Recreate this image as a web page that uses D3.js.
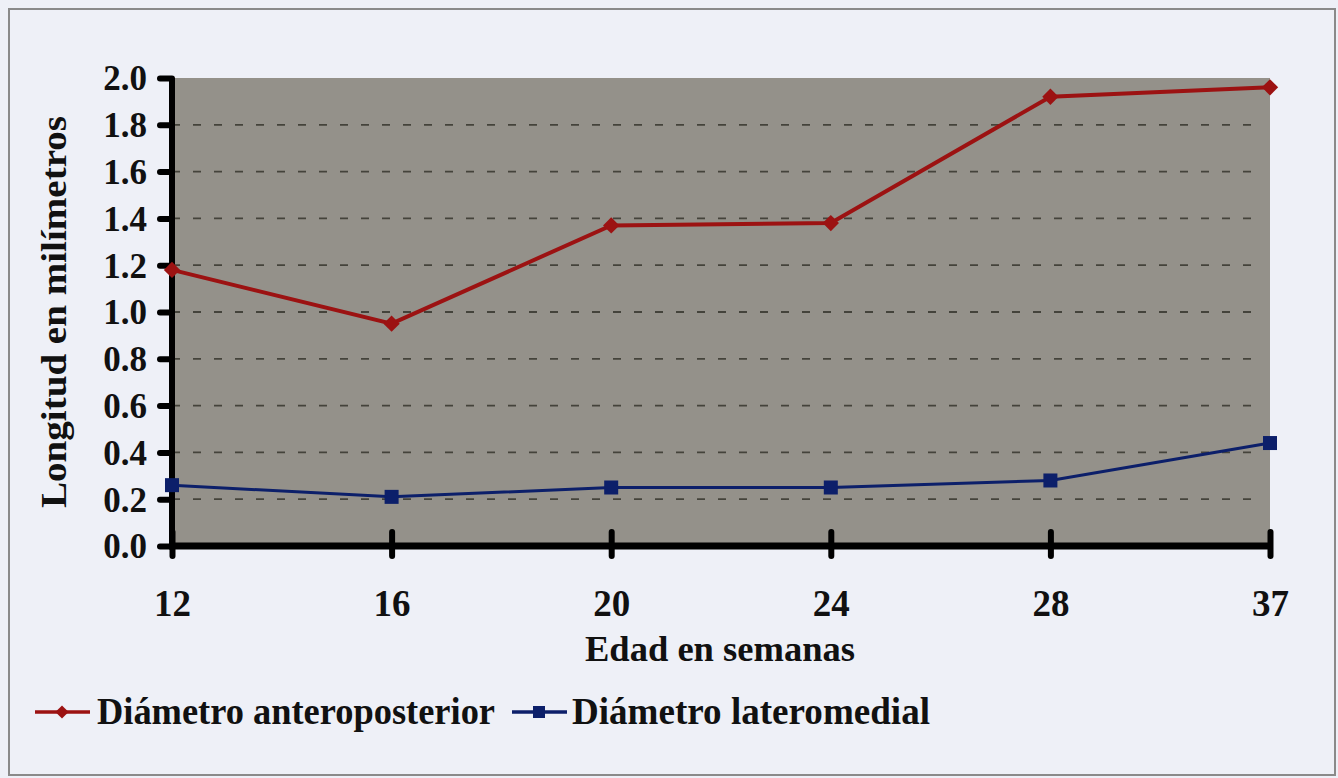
<!DOCTYPE html>
<html>
<head>
<meta charset="utf-8">
<script src="https://cdn.jsdelivr.net/npm/d3@7"></script>
<style>
  body { margin: 0; background: #eef0f7; }
  svg { display: block; }
  svg text { font-family: "Liberation Serif", "Times New Roman", serif !important; font-weight: bold; fill: #111; }
</style>
</head>
<body>
<svg id="chart" width="1338" height="778"></svg>
<script>
// edades (semanas) y diámetros en mm
var weeks = ["12", "16", "20", "24", "28", "37"];
var anteroposterior = [1.18, 0.95, 1.37, 1.38, 1.92, 1.96];
var lateromedial = [0.26, 0.21, 0.25, 0.25, 0.28, 0.44];
var yTicks = [0, 0.2, 0.4, 0.6, 0.8, 1.0, 1.2, 1.4, 1.6, 1.8, 2.0];
var seriesNames = ["Diámetro anteroposterior", "Diámetro lateromedial"];

var margin = { top: 78, left: 172, right: 68, bottom: 232 },
	W = 1338, H = 778,
	width = W - margin.left - margin.right,
	height = H - margin.top - margin.bottom;

var svg = d3.select("#chart");

// marco exterior
svg.append("rect")
	.attr("x", 9).attr("y", 9)
	.attr("width", 1326).attr("height", 766)
	.attr("fill", "#eef0f7")
	.attr("stroke", "#8a8a8a").attr("stroke-width", 2);

var g = svg.append("g")
	.attr("transform", "translate(" + margin.left + "," + margin.top + ")");

var x = d3.scalePoint().domain(weeks).range([0, width]).padding(0);
var y = d3.scaleLinear().domain([0, 2]).range([height, 0]);

// fondo gris del área de trazado
g.append("rect")
	.attr("width", width).attr("height", height)
	.attr("fill", "#94918a");

// líneas de cuadrícula discontinuas
g.append("g").selectAll("line")
	.data(yTicks.filter(function (d) { return d > 0 && d < 2; }))
	.enter().append("line")
	.attr("x1", 0).attr("x2", width - 8)
	.attr("y1", function (d) { return y(d); })
	.attr("y2", function (d) { return y(d); })
	.attr("stroke", "#44433b")
	.attr("stroke-width", 1.8)
	.attr("stroke-dasharray", "8,13");

// eje Y
var yAxis = g.append("g")
	.call(d3.axisLeft(y).tickValues(yTicks).tickSize(12).tickPadding(13)
		.tickFormat(d3.format(".1f")));
yAxis.select(".domain").remove();
yAxis.selectAll(".tick line").attr("stroke", "#000").attr("stroke-width", 6)
	.attr("stroke-linecap", "round");
yAxis.selectAll("text").style("font-size", "35px").attr("dy", "0.34em");
g.append("line")
	.attr("x1", 0).attr("x2", 0).attr("y1", 0).attr("y2", height)
	.attr("stroke", "#000").attr("stroke-width", 6);

// eje X
var xAxis = g.append("g")
	.attr("transform", "translate(0," + height + ")")
	.call(d3.axisBottom(x).tickSize(10).tickPadding(34));
xAxis.select(".domain").remove();
xAxis.selectAll(".tick line")
	.attr("y1", -14).attr("y2", 10)
	.attr("stroke", "#000").attr("stroke-width", 6)
	.attr("stroke-linecap", "round");
xAxis.selectAll("text").style("font-size", "37px");
g.append("line")
	.attr("x1", -3).attr("x2", width).attr("y1", height).attr("y2", height)
	.attr("stroke", "#000").attr("stroke-width", 7);

// títulos de ejes
svg.append("text")
	.attr("transform", "translate(66," + (margin.top + height / 2) + ") rotate(-90)")
	.attr("text-anchor", "middle")
	.attr("textLength", 392).attr("lengthAdjust", "spacingAndGlyphs")
	.style("font-size", "35px")
	.text("Longitud en milímetros");

svg.append("text")
	.attr("x", 720).attr("y", 661)
	.attr("text-anchor", "middle")
	.attr("textLength", 270).attr("lengthAdjust", "spacingAndGlyphs")
	.style("font-size", "35px")
	.text("Edad en semanas");

// series
var line = d3.line()
	.x(function (d, i) { return x(weeks[i]); })
	.y(function (d) { return y(d); });

g.append("path").datum(lateromedial)
	.attr("d", line).attr("fill", "none")
	.attr("stroke", "#0c1f6a").attr("stroke-width", 3);
g.append("g").selectAll("rect")
	.data(lateromedial).enter().append("rect")
	.attr("x", function (d, i) { return x(weeks[i]) - 7; })
	.attr("y", function (d) { return y(d) - 7; })
	.attr("width", 14).attr("height", 14)
	.attr("fill", "#0c1f6a");

g.append("path").datum(anteroposterior)
	.attr("d", line).attr("fill", "none")
	.attr("stroke", "#9c1212").attr("stroke-width", 4);
g.append("g").selectAll("path")
	.data(anteroposterior).enter().append("path")
	.attr("d", d3.symbol(d3.symbolDiamond2, 170))
	.attr("transform", function (d, i) {
		return "translate(" + x(weeks[i]) + "," + y(d) + ")";
	})
	.attr("fill", "#9c1212");

// leyenda
var legend = svg.append("g").attr("transform", "translate(0,712)");
var legendItems = [
	{ name: seriesNames[0], color: "#9c1212", x0: 35, tx: 97, tl: 398, marker: "diamond" },
	{ name: seriesNames[1], color: "#0c1f6a", x0: 512, tx: 572, tl: 358, marker: "square" }
];
legendItems.forEach(function (it) {
	legend.append("line")
		.attr("x1", it.x0).attr("x2", it.x0 + 55)
		.attr("stroke", it.color).attr("stroke-width", 3.5);
	if (it.marker == "diamond") {
		legend.append("path")
			.attr("d", d3.symbol(d3.symbolDiamond2, 110))
			.attr("transform", "translate(" + (it.x0 + 27) + ",0)")
			.attr("fill", it.color);
	} else {
		legend.append("rect")
			.attr("x", it.x0 + 21).attr("y", -6)
			.attr("width", 12).attr("height", 12)
			.attr("fill", it.color);
	}
	legend.append("text")
		.attr("x", it.tx).attr("y", 12)
		.attr("textLength", it.tl).attr("lengthAdjust", "spacingAndGlyphs")
		.style("font-size", "38px")
		.text(it.name);
});
</script>
</body>
</html>
